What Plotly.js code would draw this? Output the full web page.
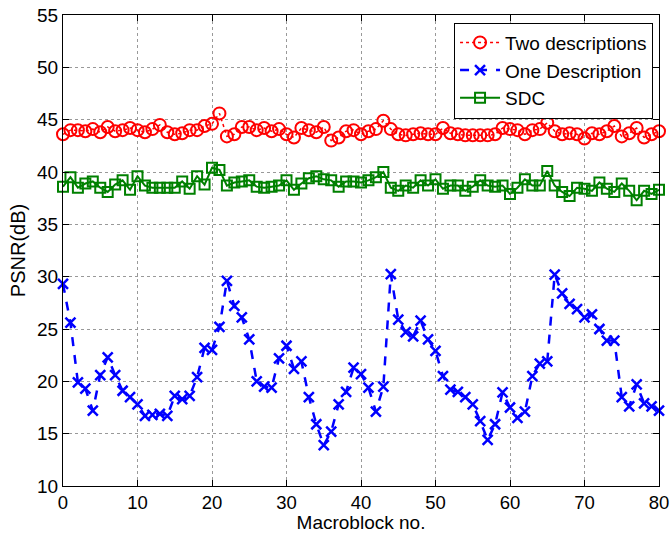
<!DOCTYPE html>
<html>
<head>
<meta charset="utf-8">
<script src="https://cdn.plot.ly/plotly-3.0.1.min.js"></script>
<style>html,body{margin:0;padding:0;background:#fff;}#chart{width:670px;height:533px;}</style>
</head>
<body>
<div id="chart"></div>
<script>
const macroblocks = Array.from({length: 81}, (_, i) => i);
const twoDescriptions = [
  43.6, 44.0, 44.0, 43.9, 44.1, 43.8, 44.3, 43.9, 44.0, 44.2,
  44.0, 43.8, 44.1, 44.5, 43.8, 43.6, 43.7, 44.0, 44.0, 44.4,
  44.6, 45.6, 43.4, 43.6, 44.3, 44.3, 44.0, 44.2, 43.9, 44.1,
  43.6, 43.3, 44.2, 44.0, 43.8, 44.3, 43.0, 43.3, 43.9, 44.0,
  43.6, 43.9, 44.1, 44.9, 44.1, 43.6, 43.5, 43.6, 43.7, 43.6,
  43.6, 44.2, 43.7, 43.6, 43.5, 43.5, 43.5, 43.5, 43.6, 44.2,
  44.1, 44.0, 43.6, 44.0, 44.1, 44.7, 43.9, 43.6, 43.7, 43.6,
  43.2, 43.7, 43.6, 43.9, 44.4, 43.4, 43.7, 44.2, 43.3, 43.6,
  43.9
];
const oneDescription = [
  29.3, 25.6, 19.9, 19.3, 17.2, 20.6, 22.3, 20.6, 19.1, 18.5,
  17.8, 16.7, 16.8, 16.9, 16.7, 18.6, 18.3, 18.6, 20.4, 23.2,
  23.0, 25.2, 29.6, 27.2, 26.1, 24.0, 20.0, 19.5, 19.4, 22.2,
  23.4, 21.2, 21.9, 18.5, 15.9, 13.9, 15.2, 17.8, 19.0, 21.3,
  20.7, 19.4, 17.1, 19.5, 30.25, 25.9, 24.7, 24.3, 25.8, 24.0,
  22.9, 20.5, 19.2, 19.0, 18.5, 17.8, 16.2, 14.4, 15.9, 18.95,
  17.5, 16.5, 17.1, 20.5, 21.7, 21.9, 30.2, 28.4, 27.4, 26.9,
  26.1, 26.4, 25.0, 23.9, 23.9, 18.5, 17.6, 19.7, 17.9, 17.6,
  17.2
];
const sdc = [
  38.6, 39.5, 38.5, 38.9, 39.1, 38.5, 38.1, 38.8, 39.2, 38.3,
  39.6, 38.7, 38.5, 38.5, 38.5, 38.5, 39.1, 38.4, 39.6, 38.8,
  40.4, 40.2, 38.7, 39.0, 39.1, 39.2, 38.6, 38.5, 38.6, 38.7,
  39.2, 38.3, 38.9, 39.4, 39.6, 39.3, 39.2, 38.6, 39.1, 39.1,
  39.0, 39.2, 39.5, 40.0, 38.5, 38.2, 38.7, 38.5, 39.2, 38.7,
  39.3, 38.4, 38.7, 38.7, 38.2, 38.6, 39.2, 38.7, 38.6, 38.7,
  37.9, 38.5, 39.3, 38.7, 38.7, 40.1, 38.7, 38.1, 37.7, 38.5,
  38.4, 38.2, 39.0, 38.4, 38.1, 38.9, 38.2, 37.3, 38.2, 37.9,
  38.3
];
const xTicks = [0, 10, 20, 30, 40, 50, 60, 70, 80];
const yTicks = [10, 15, 20, 25, 30, 35, 40, 45, 50, 55];

const font = 'Liberation Sans, Arial, sans-serif';
const traces = [
  {
    x: macroblocks, y: twoDescriptions, name: 'Two descriptions',
    type: 'scatter', mode: 'lines+markers', cliponaxis: false,
    line: {color: '#ff0000', width: 1.5, dash: 'dot'},
    marker: {symbol: 'circle-open', size: 12, color: '#ff0000', line: {width: 2, color: '#ff0000'}}
  },
  {
    x: macroblocks, y: oneDescription, name: 'One Description',
    type: 'scatter', mode: 'lines+markers', cliponaxis: false,
    line: {color: '#0000ff', width: 2.5, dash: 'dash'},
    marker: {symbol: 'x-thin-open', size: 10, color: '#0000ff', line: {width: 2.5, color: '#0000ff'}}
  },
  {
    x: macroblocks, y: sdc, name: 'SDC',
    type: 'scatter', mode: 'lines+markers', cliponaxis: false,
    line: {color: '#008000', width: 2},
    marker: {symbol: 'square-open', size: 10, color: '#008000', line: {width: 2, color: '#008000'}}
  }
];

const axisCommon = {
  showline: true, linecolor: '#000', linewidth: 1, mirror: 'ticks',
  ticks: 'inside', ticklen: 6, tickcolor: '#000', tickwidth: 1,
  showgrid: true, gridcolor: '#999', griddash: 'dot', gridwidth: 1,
  zeroline: false, automargin: false, ticklabeloverflow: 'allow',
  tickfont: {family: font, size: 19, color: '#000'}
};

const layout = {
  width: 670, height: 533,
  margin: {l: 63, r: 11, t: 15, b: 47},
  paper_bgcolor: '#fff', plot_bgcolor: '#fff',
  font: {family: font, color: '#000'},
  xaxis: Object.assign({}, axisCommon, {
    range: [0, 80], tickvals: xTicks, ticktext: xTicks.map(String),
    tickfont: {family: font, size: 18.5, color: '#000'},
    title: {text: 'Macroblock no.', font: {family: font, size: 19, color: '#000'}, standoff: 5}
  }),
  yaxis: Object.assign({}, axisCommon, {
    range: [10, 55], tickvals: yTicks, ticktext: yTicks.map(String),
    title: {text: 'PSNR(dB)', font: {family: font, size: 20, color: '#000'}, standoff: 6}
  }),
  legend: {
    x: 0.990, y: 0.984, xanchor: 'right', yanchor: 'top',
    bgcolor: '#fff', bordercolor: '#000', borderwidth: 1,
    font: {family: font, size: 19, color: '#000'},
    tracegroupgap: 0, itemwidth: 40
  },
  showlegend: true
};

Plotly.newPlot('chart', traces, layout, {staticPlot: true, displayModeBar: false});
</script>
</body>
</html>
